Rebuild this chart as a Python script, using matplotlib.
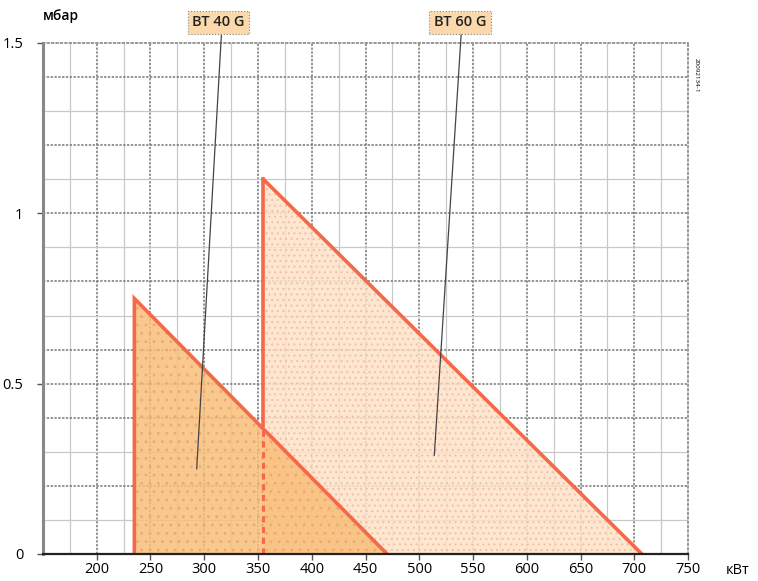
import matplotlib
matplotlib.use("Agg")
import matplotlib.pyplot as plt
import numpy as np

# dados (kW, mbar)
bt40_x = [235, 235, 470]
bt40_y = [0.0, 0.75, 0.0]
bt60_x = [355, 355, 707]
bt60_y = [0.0, 1.10, 0.0]
corte_x = 355          # linha tracejada do BT 60 G sob a curva do BT 40 G
corte_y = 0.38

modelos = ["BT 40 G", "BT 60 G"]
rot_pos = [(316, 1.527), (539, 1.527)]
rot_fim = [(293, 0.25), (514, 0.29)]
rot_caixa = [(313, 1.561), (538, 1.561)]

xticks = [200, 250, 300, 350, 400, 450, 500, 550, 600, 650, 700, 750]
yticks = [0, 0.5, 1, 1.5]
ylabels = ["0", "0.5", "1", "1.5"]

COR_LINHA = "#F4694A"
COR_40 = "#F8BF78"
COR_60 = "#FDE3C8"
COR_CAIXA = "#FCD9AC"

plt.rcParams["hatch.linewidth"] = 0.8
plt.rcParams["font.family"] = "Open Sans"
fig = plt.figure(figsize=(7.58, 5.81), dpi=100)
ax = fig.add_axes([0.0567, 0.0465, 0.851, 0.8795])
ax.set_xlim(150, 750)
ax.set_ylim(0, 1.5)

# grade
for x in np.arange(175, 750, 25):
    forte = x % 50 == 0
    ax.axvline(x, color="#777777" if forte else "#c8c8c8",
               lw=1.1 if forte else 0.9, ls=(0, (1.5, 1)) if forte else "-", zorder=0)
for y in np.arange(0.1, 1.5, 0.1):
    forte = round(y * 10) % 2 == 0 or round(y * 10) == 5
    ax.axhline(y, color="#777777" if forte else "#c8c8c8",
               lw=1.1 if forte else 0.9, ls=(0, (1.5, 1)) if forte else "-", zorder=0)

# áreas
ax.fill(bt60_x, bt60_y, facecolor=COR_60, edgecolor="#F9B9A0", hatch="...", lw=0, zorder=1, alpha=0.85)
ax.fill(bt40_x, bt40_y, facecolor=COR_40, edgecolor="#F2A080", hatch="..", lw=0, zorder=2, alpha=0.85)
ax.plot(bt40_x, bt40_y, color=COR_LINHA, lw=2.6, zorder=4, solid_joinstyle="miter")
ax.plot(bt60_x[1:], bt60_y[1:], color=COR_LINHA, lw=2.6, zorder=4)
ax.plot([bt60_x[0], bt60_x[1]], [corte_y, bt60_y[1]], color=COR_LINHA, lw=2.6, zorder=4)
ax.plot([corte_x, corte_x], [0, corte_y], color=COR_LINHA, lw=2.2, ls=(0, (2, 1.5)), zorder=4)

# rótulos com linha de chamada
for nome, p0, p1, pc in zip(modelos, rot_pos, rot_fim, rot_caixa):
    ax.plot([p0[0], p1[0]], [p0[1], p1[1]], color="#444444", lw=0.9, zorder=5, clip_on=False)
    ax.text(pc[0], pc[1], nome, ha="center", va="center", fontsize=10.5, fontweight="semibold",
            color="#222222", zorder=6,
            bbox=dict(boxstyle="square,pad=0.3", facecolor=COR_CAIXA,
                      edgecolor="#888888", lw=0.8, ls=":"))

# eixos
for lado in ("top", "right"):
    ax.spines[lado].set_color("#888888")
    ax.spines[lado].set_linestyle(":")
    ax.spines[lado].set_linewidth(1.2)
ax.spines["left"].set_color("#888888")
ax.spines["left"].set_linewidth(2.2)
ax.spines["bottom"].set_color("#222222")
ax.spines["bottom"].set_linewidth(1.6)
ax.spines["bottom"].set_zorder(7)

ax.set_xticks(xticks)
ax.set_yticks(yticks)
ax.set_yticklabels(ylabels)
ax.tick_params(axis="both", length=4, width=1, color="#555555", labelsize=10.5)
ax.tick_params(axis="x", pad=2)
ax.tick_params(axis="y", pad=10)

fig.text(0.057, 0.972, "мбар", ha="left", va="center", fontsize=10, fontweight="semibold")
fig.text(0.958, 0.006, "кВт", ha="left", va="bottom", fontsize=10.5)
fig.text(0.918, 0.87, "20092134-1", rotation=270, ha="center", va="center", fontsize=4.5)

fig.savefig("out.png", dpi=100)
